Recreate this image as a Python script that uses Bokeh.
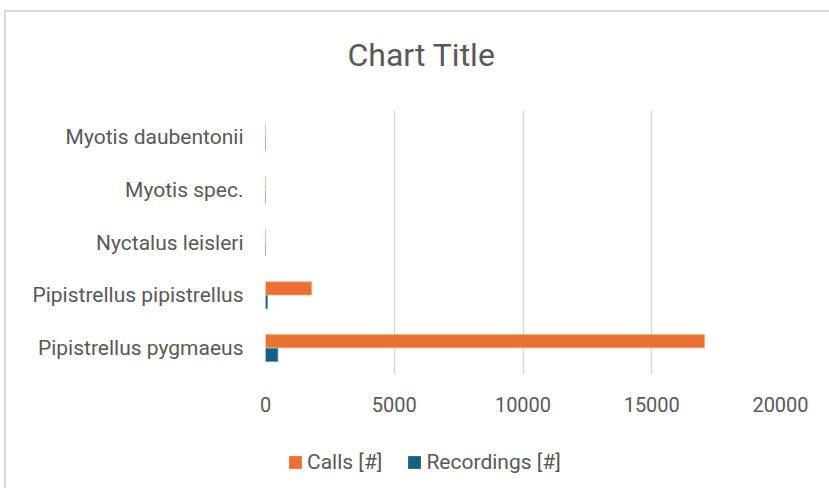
from bokeh.plotting import figure
from bokeh.layouts import column
from bokeh.models import (ColumnDataSource, FactorRange, Legend, LegendItem, Range1d,
                          FixedTicker, Label)
from bokeh.transform import dodge
from bokeh.embed import file_html
from bokeh.resources import INLINE

species = ["Pipistrellus pygmaeus", "Pipistrellus pipistrellus", "Nyctalus leisleri",
           "Myotis spec.", "Myotis daubentonii"]
calls = [17050, 1790, 6, 3, 2]
recordings = [480, 75, 1, 1, 1]
x_ticks = [0, 5000, 10000, 15000, 20000]
series_names = ["Calls [#]", "Recordings [#]"]
series_colors = ["#E97132", "#156082"]
chart_title = "Chart Title"

FONT = "Roboto"
TXT = "#595959"
GRID = "#d9d9d9"
W = 823
BL, BR = 259, 49


def strip(h):
    f = figure(width=W, height=h, output_backend="svg", toolbar_location=None,
               x_range=Range1d(0, W - BL - BR), y_range=Range1d(0, h),
               x_axis_type=None, y_axis_type=None,
               min_border_left=BL, min_border_right=BR, min_border_top=0, min_border_bottom=0)
    f.outline_line_color = None
    f.grid.grid_line_color = None
    return f


# title strip
ts = strip(70)
ts.add_layout(Label(x=82, y=28, text=chart_title, text_font=FONT, text_font_size="32px",
                    text_color=TXT, text_baseline="middle", text_align="left"))

# main chart
src = ColumnDataSource(dict(species=species, calls=calls, recordings=recordings))
p = figure(width=W, height=343, output_backend="svg", toolbar_location=None,
           y_range=FactorRange(factors=species, range_padding=0),
           x_range=Range1d(0, 20000),
           min_border_left=BL, min_border_right=BR, min_border_top=28, min_border_bottom=51)
p.outline_line_color = None

p.hbar(y=dodge("species", 0.13, range=p.y_range), right="calls", left=0, height=0.25,
       source=src, fill_color=series_colors[0], line_color="#f4a57a", line_width=0.8)
p.hbar(y=dodge("species", -0.13, range=p.y_range), right="recordings", left=0, height=0.25,
       source=src, fill_color=series_colors[1], line_color="#5d93ad", line_width=0.8)

p.xaxis.ticker = FixedTicker(ticks=x_ticks)
p.xaxis.axis_line_color = None
p.xaxis.major_tick_line_color = None
p.xaxis.minor_tick_line_color = None
p.xaxis.major_label_text_font = FONT
p.xaxis.major_label_text_font_size = "20px"
p.xaxis.major_label_text_color = TXT
p.xaxis.major_label_standoff = 16

p.yaxis.axis_line_color = None
p.yaxis.major_tick_line_color = None
p.yaxis.major_label_text_font = FONT
p.yaxis.major_label_text_font_size = "21px"
p.yaxis.major_label_text_color = TXT
p.yaxis.major_label_standoff = 16

p.xgrid.grid_line_color = GRID
p.xgrid.grid_line_width = 1.5
p.ygrid.grid_line_color = None

# legend strip
lg = strip(63)
offscreen = ColumnDataSource(dict(x=[-50], y=[-50]))
items = []
for name, col in zip(series_names, series_colors):
    r = lg.rect(x="x", y="y", width=1, height=1, source=offscreen,
                fill_color=col, line_color=None)
    items.append(LegendItem(label=name, renderers=[r]))
legend = Legend(items=items, orientation="horizontal", location=(22, 14),
                label_text_font=FONT, label_text_font_size="21px", label_text_color=TXT,
                glyph_width=16, glyph_height=16, spacing=24, label_standoff=4,
                border_line_color=None, background_fill_alpha=0, padding=0, margin=0)
lg.add_layout(legend, "center")

layout = column(ts, p, lg, spacing=0, margin=(10, 0, 0, 4))
layout.styles = {"border-left": "2px solid #d9d9d9", "border-top": "2px solid #d9d9d9"}
open("out.html", "w").write(file_html(layout, INLINE))
